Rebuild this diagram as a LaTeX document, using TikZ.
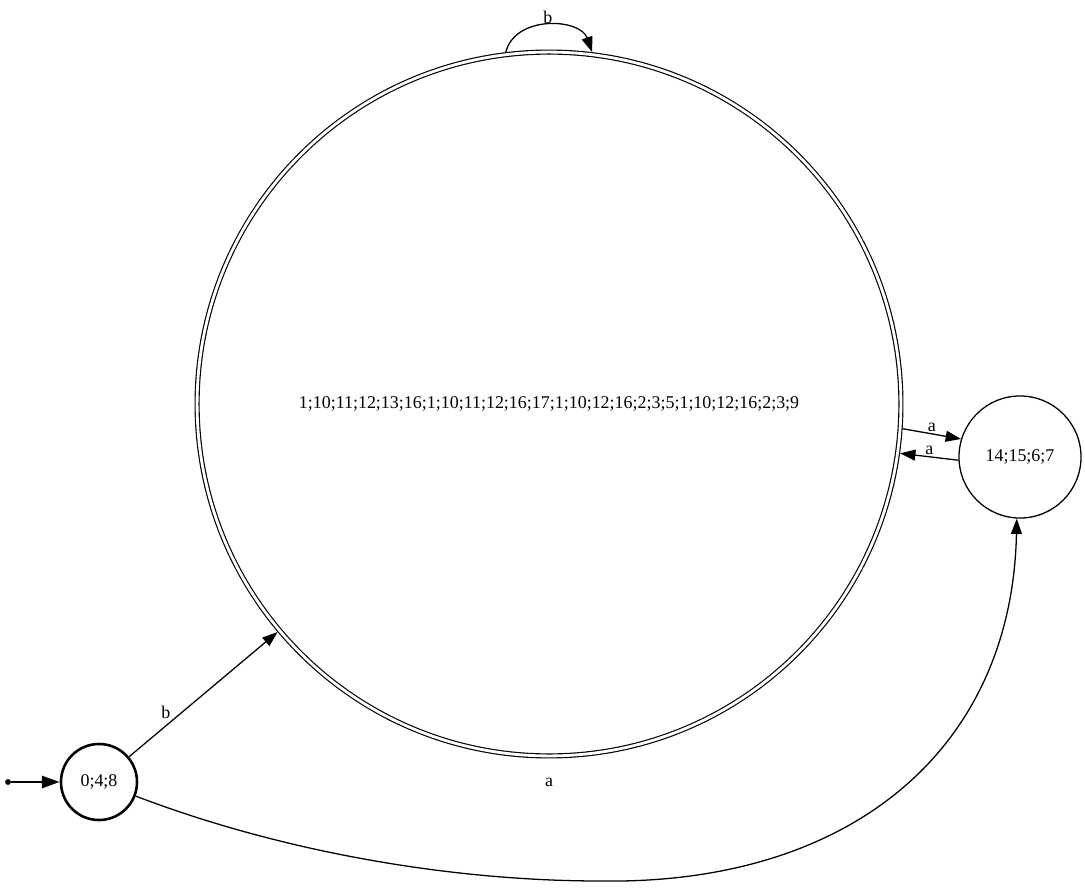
\documentclass[tikz,border=0pt]{standalone}
\usepackage{fontspec}
\setmainfont{Liberation Serif}
\usepackage{tikz}
\usetikzlibrary{arrows.meta}

\begin{document}
\begin{tikzpicture}[x=0.78pt, y=-0.78pt, >={Triangle[length=12pt,width=8.5pt]},
    every node/.style={font=\fontsize{14}{16}\selectfont},
    st/.style={circle, draw, line width=1pt, inner sep=0pt},
    trans/.style={->, line width=1pt}]
    \useasboundingbox (0,0) rectangle (1085,888);
    % States
    \node[st, line width=2pt, minimum size=59.3pt] (s0) at (99,782) {0;4;8};
    \node[st, line width=0.9pt, double, double distance=2.2pt, minimum size=549pt, outer sep=2pt] (s1) at (549,404)
      {1;10;11;12;13;16;1;10;11;12;16;17;1;10;12;16;2;3;5;1;10;12;16;2;3;9};
    \node[st, minimum size=95.2pt] (s2) at (1020,457) {14;15;6;7};
    \node[circle, fill, inner sep=0pt, minimum size=4.6pt] (init) at (8,782) {};

    % Transitions
    \draw[->, line width=2pt, >={Triangle[length=14pt,width=9.5pt]}] (init) -- (s0);
    \draw[trans] (s0) -- node[pos=0.29, above left, inner sep=1pt] {b} (s1);
    \draw[trans] (s1.97) .. controls (515,15) and (580,18) .. node[midway, above, inner sep=1pt] {b} (s1.83);
    \draw[trans] (s1.-4) -- node[midway, above, inner sep=1pt] {a} (s2.163);
    \draw[trans] (s2.183) -- node[midway, above, inner sep=1pt] {a} (s1.-8.7);
    \draw[trans] (s0.-21.5) .. controls (290,855) and (460,881) .. (600,881)
      .. controls (850,885) and (1012,750) .. (s2.-93) node at (549,782) {a};
\end{tikzpicture}
\end{document}
